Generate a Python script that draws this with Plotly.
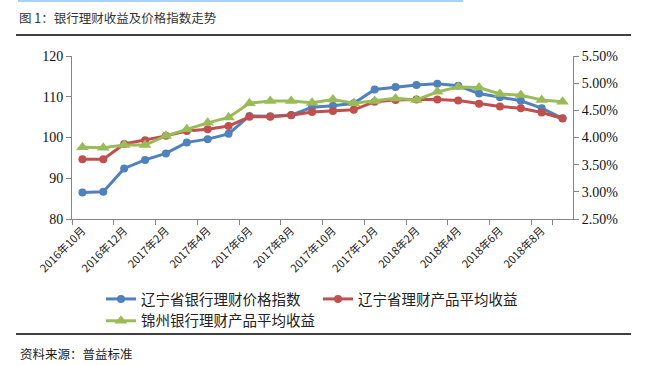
import plotly.graph_objects as go

months = ["2016年10月", "2016年11月", "2016年12月", "2017年1月", "2017年2月", "2017年3月",
          "2017年4月", "2017年5月", "2017年6月", "2017年7月", "2017年8月", "2017年9月",
          "2017年10月", "2017年11月", "2017年12月", "2018年1月", "2018年2月", "2018年3月",
          "2018年4月", "2018年5月", "2018年6月", "2018年7月", "2018年8月", "2018年9月"]

price_index = [86.5, 86.7, 92.4, 94.5, 96.1, 98.8, 99.6, 100.9, 105.3, 105.2, 105.5, 107.4,
               107.8, 108.4, 111.8, 112.4, 112.9, 113.2, 112.7, 110.8, 109.9, 109.0, 107.2, 104.7]

liaoning_yield = [3.60, 3.60, 3.88, 3.95, 4.03, 4.12, 4.15, 4.21, 4.38, 4.38, 4.41, 4.47,
                  4.49, 4.51, 4.66, 4.69, 4.70, 4.70, 4.68, 4.62, 4.57, 4.54, 4.46, 4.35]

jinzhou_yield = [3.82, 3.81, 3.86, 3.86, 4.03, 4.15, 4.27, 4.37, 4.63, 4.67, 4.67, 4.64,
                 4.70, 4.63, 4.67, 4.72, 4.69, 4.84, 4.93, 4.92, 4.80, 4.78, 4.69, 4.66]

names = ["辽宁省银行理财价格指数", "辽宁省理财产品平均收益", "锦州银行理财产品平均收益"]
left_ticks = [80, 90, 100, 110, 120]
right_ticks = [2.5, 3.0, 3.5, 4.0, 4.5, 5.0, 5.5]
right_labels = ["%.2f%%" % v for v in right_ticks]

W, H = 653, 365
L, R, T, B = 72, 80, 56, 146
pw, ph = W - L - R, H - T - B

def px(x):
    return (x - L) / pw

def py(y):
    return (H - B - y) / ph

CJK = "Noto Sans CJK SC"
SERIF = "Liberation Serif"

fig = go.Figure()
fig.add_trace(go.Scatter(x=months, y=price_index, name=names[0], mode="lines+markers",
                         line=dict(color="#4F81BD", width=3),
                         marker=dict(symbol="circle", size=8, color="#4F81BD")))
fig.add_trace(go.Scatter(x=months, y=liaoning_yield, name=names[1], mode="lines+markers",
                         yaxis="y2",
                         line=dict(color="#C0504D", width=3),
                         marker=dict(symbol="circle", size=8, color="#C0504D")))
fig.add_trace(go.Scatter(x=months, y=jinzhou_yield, name=names[2], mode="lines+markers",
                         yaxis="y2",
                         line=dict(color="#9BBB59", width=3),
                         marker=dict(symbol="triangle-up", size=11, color="#9BBB59")))

axis_col = "#868686"
fig.update_layout(
    width=W, height=H,
    margin=dict(l=L, r=R, t=T, b=B, pad=0),
    paper_bgcolor="white", plot_bgcolor="white",
    showlegend=True,
    xaxis=dict(type="category", categoryorder="array", categoryarray=months,
               tickmode="array", tickvals=months[::2], ticktext=months[::2],
               tickson="boundaries", ticks="outside", ticklen=5, tickcolor=axis_col,
               showline=True, linecolor=axis_col, linewidth=1, showgrid=False,
               tickangle=-45, tickfont=dict(family=CJK + ", " + SERIF, size=11, color="#222"),
               range=[-0.5, 23.5], zeroline=False),
    yaxis=dict(range=[80, 120], tickvals=left_ticks, ticks="outside", ticklen=5,
               tickcolor=axis_col, showline=True, linecolor=axis_col, linewidth=1,
               showgrid=False, zeroline=False,
               tickfont=dict(family=SERIF, size=14, color="#111")),
    yaxis2=dict(range=[2.5, 5.5], tickmode="array", tickvals=right_ticks, ticktext=right_labels,
                overlaying="y", side="right", ticks="outside", ticklen=5,
                tickcolor=axis_col, showline=True, linecolor=axis_col, linewidth=1,
                showgrid=False, zeroline=False,
                tickfont=dict(family=SERIF, size=14, color="#111")),
    legend=dict(orientation="h", x=px(101), y=py(283), xanchor="left", yanchor="top",
                font=dict(family=CJK, size=14.5, color="#222"),
                entrywidth=172, entrywidthmode="pixels", tracegroupgap=0,
                bgcolor="rgba(0,0,0,0)"),
)

fig.add_annotation(text="图 1：银行理财收益及价格指数走势", xref="paper", yref="paper",
                   x=px(17), y=py(17), xanchor="left", yanchor="middle", showarrow=False,
                   font=dict(family=CJK, size=12.5, color="#333"))
fig.add_annotation(text="资料来源：普益标准", xref="paper", yref="paper",
                   x=px(18), y=py(353), xanchor="left", yanchor="middle", showarrow=False,
                   font=dict(family=CJK, size=12.5, color="#222"))

fig.add_shape(type="line", xref="paper", yref="paper", x0=px(18), x1=px(463),
              y0=py(1), y1=py(1), line=dict(color="#A9D0F5", width=2))
fig.add_shape(type="line", xref="paper", yref="paper", x0=px(16), x1=px(631),
              y0=py(35), y1=py(35), line=dict(color="#000", width=1.5))
fig.add_shape(type="line", xref="paper", yref="paper", x0=px(16), x1=px(631),
              y0=py(334), y1=py(334), line=dict(color="#000", width=1.5))

fig.write_html("out.html", config={"displayModeBar": False},
               post_script="document.body.style.margin='0';document.body.style.overflow='hidden';")
